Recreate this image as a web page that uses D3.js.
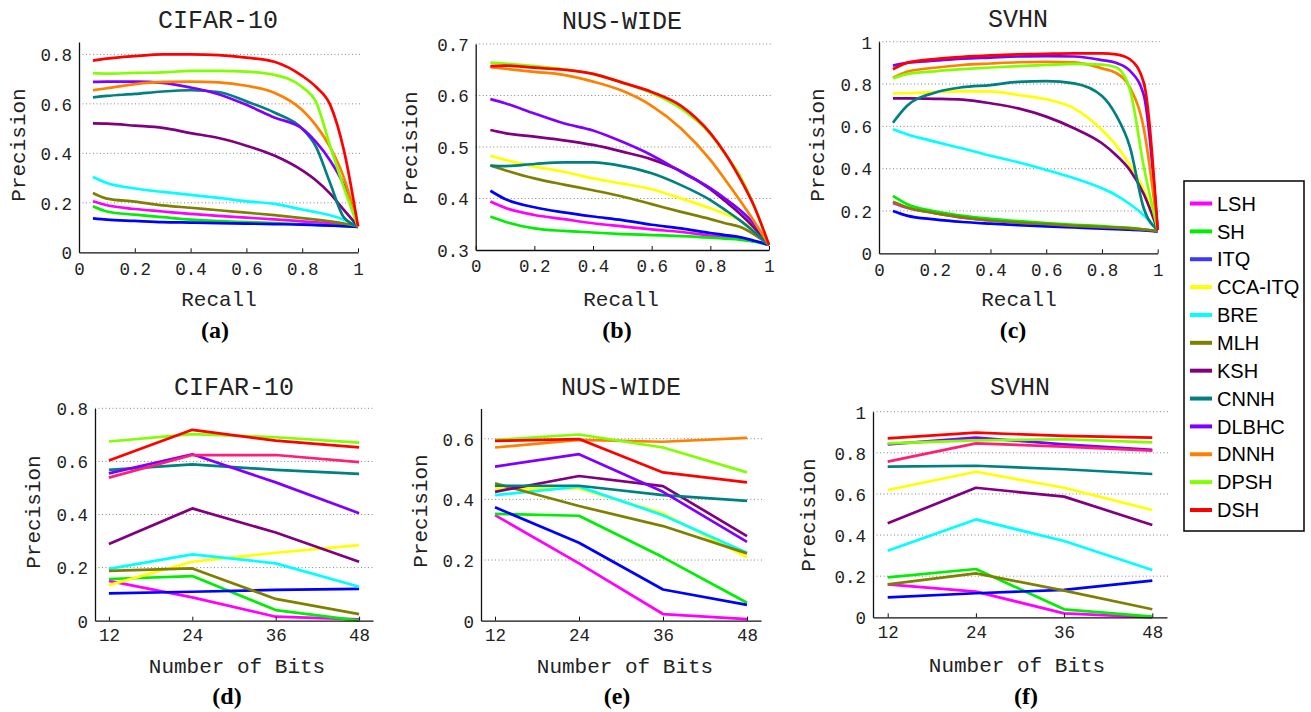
<!DOCTYPE html>
<html>
<head>
<meta charset="utf-8">
<title>Precision curves</title>
<script src="https://cdn.jsdelivr.net/npm/d3@7"></script>
<style>
  body { margin: 0; background: #fff; }
  .tick text, .axlab, .title { font-family: "Liberation Mono", "Courier New", monospace; fill: #222; }
  .plabel { font-family: "Liberation Serif", "Times New Roman", serif; font-weight: bold; }
  .legend text { font-family: "Liberation Sans", Arial, sans-serif; }
</style>
</head>
<body>
<svg id="chart" width="1311" height="712"></svg>
<script>
// methods, in legend order
const methods = ["LSH", "SH", "ITQ", "CCA-ITQ", "BRE", "MLH", "KSH", "CNNH", "DLBHC", "DNNH", "DPSH", "DSH"];
const colors = ["#ff00ff", "#00ee00", "#0000ff", "#ffff00", "#00ffff", "#808000", "#800080", "#008080", "#8000ff", "#ff8000", "#80ff00", "#ff0000"];
const legendColors = ["#ff00ff", "#00ee00", "#3a3aff", "#ffff00", "#00ffff", "#808000", "#800080", "#008080", "#8000ff", "#ff8000", "#80ff00", "#ff0000"];
const dnnhPink = "#ff1f75";

// x values
const recall = [0.05, 0.1, 0.2, 0.3, 0.4, 0.5, 0.6, 0.7, 0.8, 0.85, 0.9, 0.95, 1];
const bits = [12, 24, 36, 48];

// (a) CIFAR-10 precision-recall
const prCifar = [
  [0.206, 0.19, 0.175, 0.165, 0.155, 0.147, 0.14, 0.133, 0.125, 0.121, 0.117, 0.112, 0.105],
  [0.186, 0.165, 0.152, 0.142, 0.132, 0.126, 0.122, 0.118, 0.113, 0.111, 0.108, 0.106, 0.103],
  [0.137, 0.132, 0.127, 0.122, 0.12, 0.118, 0.116, 0.114, 0.112, 0.11, 0.108, 0.106, 0.103],
  null,
  [0.304, 0.28, 0.258, 0.244, 0.232, 0.22, 0.206, 0.196, 0.173, 0.162, 0.15, 0.132, 0.105],
  [0.24, 0.217, 0.205, 0.19, 0.18, 0.17, 0.16, 0.15, 0.138, 0.132, 0.125, 0.116, 0.105],
  [0.521, 0.52, 0.512, 0.503, 0.482, 0.462, 0.431, 0.391, 0.331, 0.29, 0.237, 0.17, 0.105],
  [0.626, 0.632, 0.64, 0.65, 0.655, 0.648, 0.61, 0.565, 0.5, 0.425, 0.28, 0.14, 0.105],
  [0.689, 0.69, 0.69, 0.685, 0.666, 0.639, 0.596, 0.545, 0.5, 0.445, 0.371, 0.27, 0.105],
  [0.655, 0.663, 0.68, 0.689, 0.69, 0.687, 0.673, 0.645, 0.575, 0.512, 0.425, 0.3, 0.105],
  [0.724, 0.722, 0.725, 0.727, 0.733, 0.733, 0.73, 0.717, 0.668, 0.606, 0.43, 0.26, 0.105],
  [0.775, 0.783, 0.793, 0.8, 0.8, 0.797, 0.787, 0.77, 0.713, 0.668, 0.597, 0.41, 0.105]
];

// (b) NUS-WIDE precision-recall
const prNus = [
  [0.394, 0.382, 0.368, 0.36, 0.352, 0.346, 0.34, 0.335, 0.328, 0.325, 0.322, 0.317, 0.31],
  [0.365, 0.355, 0.342, 0.337, 0.334, 0.331, 0.329, 0.327, 0.324, 0.322, 0.32, 0.316, 0.31],
  [0.415, 0.399, 0.383, 0.373, 0.365, 0.358, 0.349, 0.342, 0.333, 0.329, 0.325, 0.318, 0.31],
  [0.483, 0.475, 0.462, 0.452, 0.439, 0.429, 0.418, 0.4, 0.381, 0.37, 0.358, 0.338, 0.31],
  null,
  [0.464, 0.455, 0.439, 0.427, 0.416, 0.404, 0.389, 0.374, 0.36, 0.352, 0.345, 0.33, 0.31],
  [0.533, 0.527, 0.52, 0.513, 0.504, 0.491, 0.476, 0.453, 0.418, 0.395, 0.371, 0.343, 0.31],
  [0.464, 0.463, 0.467, 0.47, 0.47, 0.463, 0.449, 0.426, 0.397, 0.378, 0.358, 0.335, 0.31],
  [0.593, 0.585, 0.565, 0.546, 0.532, 0.51, 0.484, 0.452, 0.42, 0.4, 0.378, 0.35, 0.31],
  [0.655, 0.652, 0.646, 0.64, 0.627, 0.609, 0.58, 0.536, 0.475, 0.437, 0.397, 0.355, 0.31],
  [0.664, 0.662, 0.657, 0.651, 0.642, 0.625, 0.605, 0.575, 0.525, 0.487, 0.445, 0.385, 0.31],
  [0.657, 0.658, 0.654, 0.65, 0.642, 0.625, 0.607, 0.58, 0.527, 0.488, 0.44, 0.384, 0.31]
];

// (c) SVHN precision-recall
const prSvhn = [
  [0.238, 0.215, 0.19, 0.168, 0.155, 0.145, 0.137, 0.13, 0.123, 0.12, 0.116, 0.111, 0.105],
  [0.271, 0.233, 0.198, 0.177, 0.163, 0.152, 0.143, 0.135, 0.128, 0.124, 0.12, 0.113, 0.105],
  [0.2, 0.178, 0.16, 0.148, 0.14, 0.133, 0.127, 0.122, 0.117, 0.114, 0.112, 0.108, 0.103],
  [0.756, 0.757, 0.762, 0.765, 0.765, 0.748, 0.728, 0.685, 0.583, 0.512, 0.417, 0.3, 0.11],
  [0.586, 0.563, 0.528, 0.495, 0.461, 0.43, 0.394, 0.355, 0.307, 0.275, 0.233, 0.18, 0.11],
  [0.244, 0.218, 0.19, 0.17, 0.155, 0.145, 0.138, 0.13, 0.124, 0.121, 0.118, 0.112, 0.105],
  [0.732, 0.732, 0.73, 0.726, 0.709, 0.685, 0.646, 0.591, 0.52, 0.465, 0.394, 0.28, 0.11],
  [0.617, 0.696, 0.759, 0.785, 0.795, 0.81, 0.814, 0.803, 0.743, 0.654, 0.504, 0.213, 0.11],
  [0.887, 0.9, 0.91, 0.92, 0.925, 0.93, 0.932, 0.93, 0.913, 0.9, 0.863, 0.748, 0.11],
  [0.83, 0.858, 0.877, 0.89, 0.897, 0.903, 0.905, 0.902, 0.874, 0.853, 0.784, 0.59, 0.11],
  [0.827, 0.847, 0.86, 0.87, 0.878, 0.885, 0.89, 0.895, 0.892, 0.879, 0.775, 0.41, 0.11],
  [0.87, 0.9, 0.918, 0.928, 0.935, 0.94, 0.943, 0.945, 0.945, 0.94, 0.917, 0.806, 0.11]
];

// (d) CIFAR-10 precision vs bits
const bitsCifar = [
  [0.15, 0.088, 0.015, 0.005],
  [0.157, 0.168, 0.04, 0.0],
  [0.103, 0.109, 0.116, 0.12],
  [0.134, 0.222, 0.256, 0.285],
  [0.195, 0.25, 0.216, 0.128],
  [0.188, 0.197, 0.082, 0.025],
  [0.289, 0.423, 0.332, 0.222],
  [0.568, 0.589, 0.568, 0.553],
  [0.555, 0.627, 0.521, 0.405],
  [0.539, 0.624, 0.624, 0.597],
  [0.675, 0.703, 0.691, 0.671],
  [0.603, 0.719, 0.678, 0.653]
];

// (e) NUS-WIDE precision vs bits
const bitsNus = [
  [0.348, 0.189, 0.022, 0.005],
  [0.352, 0.346, 0.209, 0.059],
  [0.374, 0.257, 0.103, 0.052],
  [0.436, 0.436, 0.354, 0.209],
  [0.414, 0.442, 0.348, 0.224],
  [0.453, 0.378, 0.312, 0.222],
  [0.425, 0.477, 0.444, 0.279],
  [0.445, 0.445, 0.414, 0.395],
  [0.508, 0.549, 0.425, 0.26],
  [0.571, 0.596, 0.59, 0.603],
  [0.596, 0.614, 0.571, 0.489],
  [0.593, 0.599, 0.489, 0.456]
];

// (f) SVHN precision vs bits
const bitsSvhn = [
  [0.16, 0.125, 0.019, 0.0],
  [0.194, 0.235, 0.039, 0.003],
  [0.097, 0.117, 0.133, 0.178],
  [0.619, 0.708, 0.63, 0.522],
  [0.324, 0.476, 0.371, 0.23],
  [0.16, 0.214, 0.13, 0.039],
  [0.457, 0.63, 0.587, 0.449],
  [0.733, 0.737, 0.72, 0.697],
  [0.841, 0.874, 0.841, 0.814],
  [0.757, 0.846, 0.83, 0.81],
  [0.846, 0.861, 0.866, 0.851],
  [0.87, 0.898, 0.882, 0.874]
];

const recallTicks = [0, 0.2, 0.4, 0.6, 0.8, 1];
const recallTickLabels = ["0", "0.2", "0.4", "0.6", "0.8", "1"];

const svg = d3.select("#chart");

const panels = [
  {title: "CIFAR-10", tag: "(a)", xlab: "Recall", xs: recall, data: prCifar, xdom: [0, 1], xr: [79, 358], ydom: [0, 0.85], yr: [252.3, 42],
   yticks: [0, 0.2, 0.4, 0.6, 0.8], ylabels: ["0", "0.2", "0.4", "0.6", "0.8"], xticks: recallTicks, xlabels: recallTickLabels, pad: 10,
   tx: 218, ty: 28, lx: 219, ly: 306, px: 18, py: 145, gx: 215, gy: 338, curve: d3.curveMonotoneX, pink: false},
  {title: "NUS-WIDE", tag: "(b)", xlab: "Recall", xs: recall, data: prNus, xdom: [0, 1], xr: [475.7, 769], ydom: [0.3, 0.7], yr: [250, 44],
   yticks: [0.3, 0.4, 0.5, 0.6, 0.7], ylabels: ["0.3", "0.4", "0.5", "0.6", "0.7"], xticks: recallTicks, xlabels: recallTickLabels, pad: 10,
   tx: 622, ty: 29, lx: 621, ly: 306, px: 410, py: 148, gx: 617, gy: 338, curve: d3.curveMonotoneX, pink: false},
  {title: "SVHN", tag: "(c)", xlab: "Recall", xs: recall, data: prSvhn, xdom: [0, 1], xr: [879, 1157.7], ydom: [0, 1], yr: [253.3, 41.7],
   yticks: [0, 0.2, 0.4, 0.6, 0.8, 1], ylabels: ["0", "0.2", "0.4", "0.6", "0.8", "1"], xticks: recallTicks, xlabels: recallTickLabels, pad: 10,
   tx: 1018, ty: 27, lx: 1019, ly: 306, px: 817, py: 145, gx: 1013, gy: 338, curve: d3.curveMonotoneX, pink: false},
  {title: "CIFAR-10", tag: "(d)", xlab: "Number of Bits", xs: bits, data: bitsCifar, xdom: [10, 50], xr: [95, 373], ydom: [0, 0.8], yr: [620.7, 408.3],
   yticks: [0, 0.2, 0.4, 0.6, 0.8], ylabels: ["0", "0.2", "0.4", "0.6", "0.8"], xticks: bits, xlabels: ["12", "24", "36", "48"], pad: 8,
   tx: 234, ty: 395, lx: 237, ly: 673, px: 33, py: 512, gx: 227, gy: 704, curve: d3.curveLinear, pink: true},
  {title: "NUS-WIDE", tag: "(e)", xlab: "Number of Bits", xs: bits, data: bitsNus, xdom: [10, 50], xr: [481, 761], ydom: [0, 0.7], yr: [620.7, 408.4],
   yticks: [0, 0.2, 0.4, 0.6], ylabels: ["0", "0.2", "0.4", "0.6"], xticks: bits, xlabels: ["12", "24", "36", "48"], pad: 8,
   tx: 621, ty: 395, lx: 625, ly: 673, px: 420, py: 511, gx: 617, gy: 704, curve: d3.curveLinear, pink: false},
  {title: "SVHN", tag: "(f)", xlab: "Number of Bits", xs: bits, data: bitsSvhn, xdom: [10, 50], xr: [873, 1167], ydom: [0, 1], yr: [617.3, 411.7],
   yticks: [0, 0.2, 0.4, 0.6, 0.8, 1], ylabels: ["0", "0.2", "0.4", "0.6", "0.8", "1"], xticks: bits, xlabels: ["12", "24", "36", "48"], pad: 8,
   tx: 1020, ty: 395, lx: 1017, ly: 672, px: 808, py: 515, gx: 1026, gy: 704, curve: d3.curveLinear, pink: true}
];

panels.forEach(p => {
  const x = d3.scaleLinear().domain(p.xdom).range(p.xr);
  const y = d3.scaleLinear().domain(p.ydom).range(p.yr);
  const g = svg.append("g");

  // dotted grid
  g.selectAll(".grid").data(p.yticks.filter(t => t !== p.ydom[0])).enter()
    .append("line")
    .attr("x1", p.xr[0]).attr("x2", p.xr[1] + 2)
    .attr("y1", d => y(d)).attr("y2", d => y(d))
    .attr("stroke", "#888").attr("stroke-width", 1).attr("stroke-dasharray", "1,2.5");

  // curves
  const line = d3.line().x((d, i) => x(p.xs[i])).y(d => y(d)).curve(p.curve);
  p.data.forEach((vals, k) => {
    if (!vals) return;
    const c = (k === 9 && p.pink) ? dnnhPink : colors[k];
    g.append("path").datum(vals).attr("d", line)
      .attr("fill", "none").attr("stroke", c).attr("stroke-width", 2.7)
      .attr("stroke-linejoin", "round");
  });

  // axes
  const xAxis = d3.axisBottom(x).tickValues(p.xticks).tickFormat((d, i) => p.xlabels[i]).tickSizeInner(-4).tickSizeOuter(0).tickPadding(p.pad);
  const yAxis = d3.axisLeft(y).tickValues(p.yticks).tickFormat((d, i) => p.ylabels[i]).tickSize(0).tickPadding(7);
  const gx = g.append("g").attr("transform", `translate(0,${p.yr[0]})`).call(xAxis);
  const gy = g.append("g").attr("transform", `translate(${p.xr[0]},0)`).call(yAxis);
  [gx, gy].forEach(a => {
    a.select(".domain").attr("stroke", "#111").attr("stroke-width", 1.3);
    a.selectAll(".tick line").attr("stroke", "#111");
    a.selectAll(".tick text").style("font-size", "17.5px").attr("fill", "#222");
  });
  gx.selectAll(".tick text").attr("dy", "0.71em");
  gy.selectAll(".tick text").attr("dy", "0.36em");

  // texts
  g.append("text").attr("class", "title").attr("x", p.tx).attr("y", p.ty)
    .attr("text-anchor", "middle").style("font-size", "25px").text(p.title);
  g.append("text").attr("class", "axlab").attr("x", p.lx).attr("y", p.ly)
    .attr("text-anchor", "middle").style("font-size", "21px").text(p.xlab);
  g.append("text").attr("class", "axlab")
    .attr("transform", `translate(${p.px},${p.py}) rotate(-90)`)
    .attr("text-anchor", "middle").attr("dy", "0.35em").style("font-size", "21px").text("Precision");
  g.append("text").attr("class", "plabel").attr("x", p.gx).attr("y", p.gy)
    .attr("text-anchor", "middle").style("font-size", "24px").text(p.tag);
});

// legend
const lg = svg.append("g").attr("class", "legend");
lg.append("rect").attr("x", 1184).attr("y", 181).attr("width", 120).attr("height", 350)
  .attr("fill", "#fff").attr("stroke", "#000").attr("stroke-width", 1.5);
const ly = d3.scalePoint().domain(methods).range([203.5, 510]);
methods.forEach((m, k) => {
  lg.append("line").attr("x1", 1190).attr("x2", 1212).attr("y1", ly(m)).attr("y2", ly(m))
    .attr("stroke", legendColors[k]).attr("stroke-width", 4);
  lg.append("text").attr("x", 1217).attr("y", ly(m)).attr("dy", "0.36em")
    .style("font-size", "20px").attr("fill", "#000").text(m);
});
</script>
</body>
</html>
